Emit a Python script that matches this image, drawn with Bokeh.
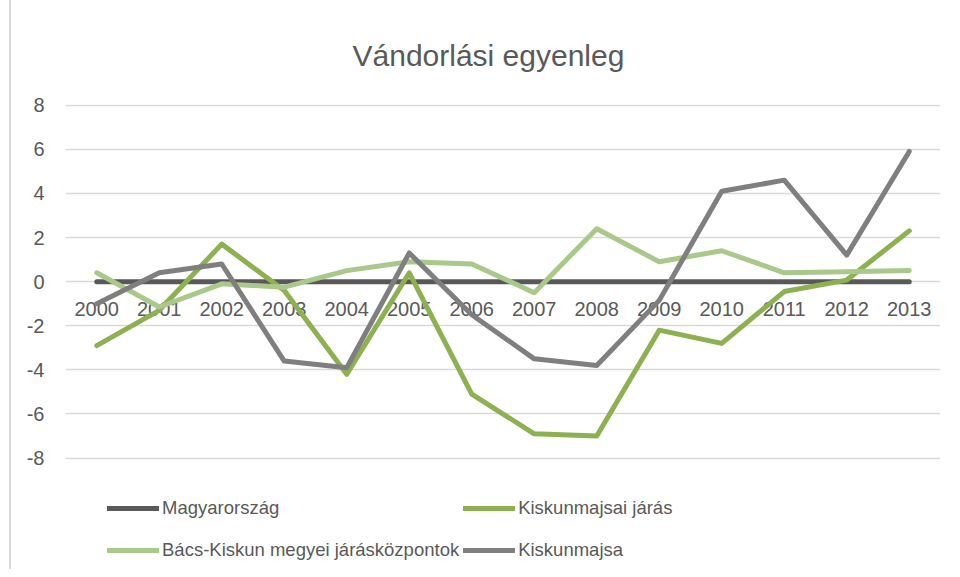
from bokeh.plotting import figure
from bokeh.models import Range1d, FixedTicker, Legend, LegendItem, LinearAxis, CategoricalAxis
from bokeh.embed import file_html
from bokeh.resources import INLINE

years = [str(y) for y in range(2000, 2014)]
magyarorszag = [0, 0, 0, 0, 0, 0, 0, 0, 0, 0, 0, 0, 0, 0]
kiskunmajsai_jaras = [-2.9, -1.3, 1.7, -0.4, -4.2, 0.4, -5.1, -6.9, -7.0, -2.2, -2.8, -0.45, 0.07, 2.3]
bacs_kiskun = [0.4, -1.15, -0.1, -0.25, 0.5, 0.9, 0.8, -0.5, 2.4, 0.9, 1.4, 0.4, 0.45, 0.5]
kiskunmajsa = [-1.0, 0.4, 0.8, -3.6, -3.9, 1.3, -1.5, -3.5, -3.8, -0.85, 4.1, 4.6, 1.2, 5.9]
y_ticks = [-8, -6, -4, -2, 0, 2, 4, 6, 8]

series = [
    ("Magyarország", magyarorszag, "#595959"),
    ("Kiskunmajsai járás", kiskunmajsai_jaras, "#8DB050"),
    ("Bács-Kiskun megyei járásközpontok", bacs_kiskun, "#A9C88A"),
    ("Kiskunmajsa", kiskunmajsa, "#7F7F7F"),
]

FONT = "Liberation Sans"
TXT = "#595959"

p = figure(width=935, height=569, x_range=years, y_range=Range1d(-13.05, 8.03),
           output_backend="svg", toolbar_location=None,
           min_border_left=54, min_border_right=6, min_border_top=104,
           min_border_bottom=0, x_axis_location=None, y_axis_location=None,
           styles={"border-left": "2px solid #D9D9D9", "margin-left": "9px"})
p.outline_line_color = None

p.title.text = "Vándorlási egyenleg"
p.title.align = "left"
p.title.offset = 287
p.title.text_font = FONT
p.title.text_font_size = "30px"
p.title.text_font_style = "normal"
p.title.text_color = TXT
p.title.standoff = 65

yaxis = LinearAxis(ticker=FixedTicker(ticks=y_ticks))
yaxis.major_label_overrides = {t: str(t) for t in y_ticks}
yaxis.axis_line_color = None
yaxis.major_tick_line_color = None
yaxis.minor_tick_line_color = None
yaxis.major_tick_out = 0
yaxis.major_tick_in = 0
yaxis.major_label_text_font = FONT
yaxis.major_label_text_font_size = "20px"
yaxis.major_label_text_color = TXT
yaxis.major_label_standoff = 21
p.add_layout(yaxis, "left")

xaxis = CategoricalAxis(fixed_location=0)
xaxis.axis_line_color = None
xaxis.major_tick_line_color = None
xaxis.minor_tick_line_color = None
xaxis.major_tick_out = 0
xaxis.major_tick_in = 0
xaxis.major_label_text_font = FONT
xaxis.major_label_text_font_size = "20px"
xaxis.major_label_text_color = TXT
xaxis.major_label_standoff = 20
xaxis.level = "underlay"
p.add_layout(xaxis, "below")

p.xgrid.visible = False
p.ygrid.ticker = FixedTicker(ticks=y_ticks)
p.ygrid.grid_line_color = "#D9D9D9"
p.ygrid.grid_line_width = 1.5

renderers = {}
for name, vals, color in series:
    renderers[name] = p.line(years, vals, line_color=color, line_width=5,
                             line_cap="round", line_join="round")

legend_order = ["Magyarország", "Bács-Kiskun megyei járásközpontok",
                "Kiskunmajsai járás", "Kiskunmajsa"]
items = [LegendItem(label=n, renderers=[renderers[n]]) for n in legend_order]

legend = Legend(items=items, ncols=2, location=(42, 0))
legend.border_line_color = None
legend.background_fill_alpha = 0
legend.padding = 0
legend.margin = 0
legend.spacing = 4
legend.glyph_width = 52
legend.glyph_height = 38
legend.label_height = 38
legend.label_standoff = 3
legend.label_text_font = FONT
legend.label_text_font_size = "18.5px"
legend.label_text_color = TXT
p.add_layout(legend, "center")

open("out.html", "w").write(file_html(p, INLINE))
